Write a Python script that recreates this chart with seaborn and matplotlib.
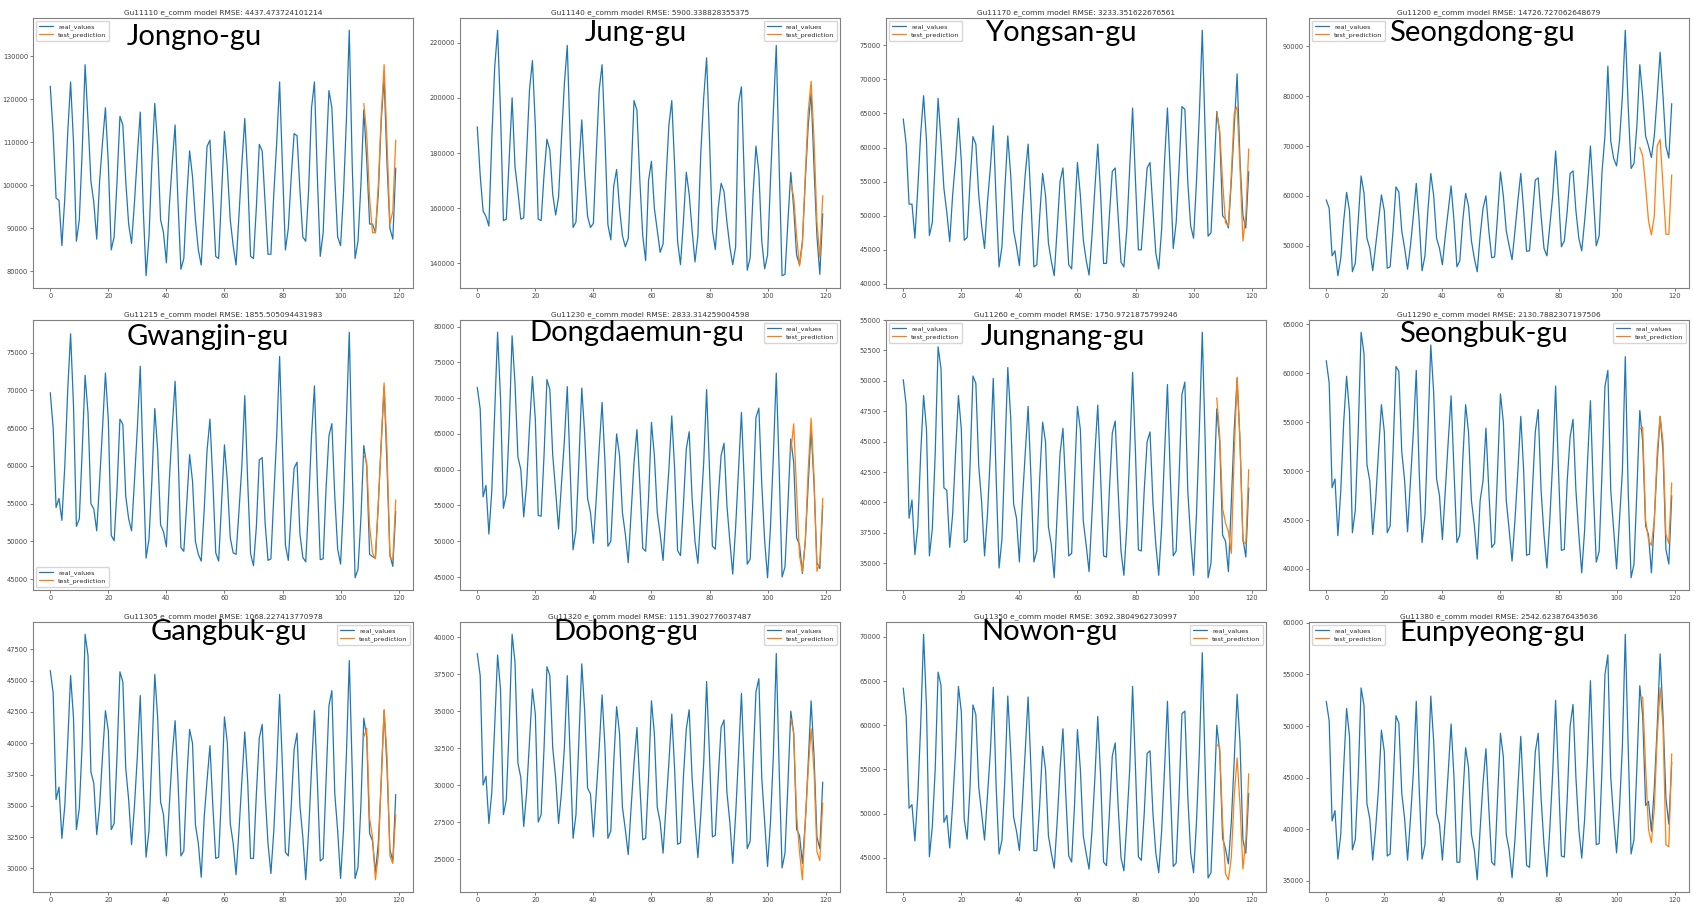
import numpy as np
import matplotlib
matplotlib.use('Agg')
import matplotlib.pyplot as plt
from matplotlib.ticker import MultipleLocator, StrMethodFormatter
import seaborn as sns

# daily e-commerce values per district, in thousands
jongno_real = [123, 112, 97, 96.5, 86, 97, 112, 124, 110, 87, 92, 108,
               128, 115, 101, 96, 87.5, 101, 110, 118, 105, 85, 88, 101,
               116, 114, 101, 91, 86.5, 96, 107, 117, 95, 79, 88, 105,
               119, 109, 92, 89, 82, 95, 105, 114, 96, 80.5, 83, 97,
               108, 102, 92, 85, 81.5, 95, 109, 110.5, 97, 83.5, 83, 98,
               112.5, 104, 92, 86, 81.5, 93, 105, 115.5, 102, 83.5, 83, 95,
               109.5, 108, 96, 84, 84, 98, 110, 124, 104, 85, 90, 102,
               112, 111.5, 99, 88, 87, 99, 118, 124, 102, 83.5, 89, 106,
               122, 118, 102, 88, 86, 98, 115, 136, 105, 83, 87, 100,
               117.5, 106, 91, 91, 89, 98, 115, 125, 105, 90, 87.5, 104]
jongno_pred = [119, 112, 97, 89, 89, 100, 116, 128, 110, 91, 94, 110.5]

jung_real = [189.5, 172, 159, 157, 153.5, 185, 211, 224.5, 195, 155.5, 156, 178,
             200, 175, 166, 156, 156.5, 180, 203, 213.5, 190, 156, 155.5, 172,
             185, 181, 165, 157.5, 164, 185, 205, 219, 185, 153, 155, 175,
             192, 172, 157, 153, 154.5, 180, 203, 212, 185, 154, 148.5, 168,
             174, 160, 150, 146, 149, 172, 199, 195.5, 170, 150, 141, 170,
             177, 160, 152, 144, 147, 170, 190, 199, 175, 148, 139.5, 155,
             173, 165, 152, 140.5, 150, 180, 200, 214.5, 185, 152, 145, 160,
             169, 166, 155, 146, 139.5, 146, 198, 204, 170, 137.5, 142, 165,
             182.5, 173, 148, 138, 143, 170, 195, 219, 175, 135.5, 136, 155,
             173, 160, 143, 139.5, 148, 170, 190, 202, 175, 150, 136, 158]
jung_pred = [169, 164, 150, 139, 147, 172, 195, 206, 185, 155, 142, 164.5]

yongsan_real = [64.2, 60.5, 51.7, 51.7, 46.7, 54, 62, 67.6, 61, 47.1, 49, 58,
                67.2, 61, 54, 50.5, 46.2, 53, 58, 64.3, 58, 46.4, 46.8, 55,
                61.6, 60.5, 53, 48.5, 45.2, 52, 57, 63.2, 52, 42.5, 45.5, 54,
                61.7, 56, 47.8, 45.5, 42.7, 50, 56, 60.5, 52, 42.5, 42.8, 50,
                56.2, 53, 46, 43.3, 41.2, 48, 55, 57, 50, 42.8, 42.2, 50,
                57.8, 53, 46.5, 43.5, 41.3, 47, 54, 60.5, 53, 43, 43, 50,
                56.5, 57, 50, 43.2, 42.5, 48, 57, 65.8, 55, 45, 45, 51,
                57, 57.8, 51, 44.5, 42.2, 48, 58, 65.8, 56, 45.2, 49, 57,
                66, 65.6, 55, 48.5, 46.7, 55, 65, 77.2, 62, 47, 47.5, 56,
                65.3, 62, 50, 49.5, 48.2, 55, 63, 70.8, 58, 50, 48.2, 56.5]
yongsan_pred = [65.2, 62.5, 55, 49, 48.5, 56, 65, 66, 57, 46.3, 50, 59.8]

seongdong_real = [59.2, 57.5, 48, 49, 44, 47.5, 55, 60.7, 57, 44.8, 46.5, 55,
                  64, 60.5, 51.5, 49.5, 45, 50, 55, 60.2, 57, 45.5, 45.8, 53,
                  61.8, 60.8, 53, 49.5, 45.3, 50, 56, 62.5, 55, 45, 48, 57,
                  64.5, 60, 51.5, 49.5, 46.2, 52, 57, 62, 55, 45.8, 47, 55,
                  60.5, 58, 51, 47.5, 44.8, 52, 57.5, 60, 53, 47.6, 47.8, 56,
                  64.8, 60, 53, 50, 47.2, 53, 59, 64.5, 57, 48.9, 49, 56,
                  63.2, 63.6, 56, 49.5, 48, 54, 60, 69, 60, 49.8, 51, 57,
                  64.5, 65, 57, 51.5, 49, 55, 62, 70, 60, 50, 52, 65,
                  72, 86, 71, 67.5, 66, 71, 80, 93.2, 78, 65.5, 66.5, 74,
                  86.3, 80, 72, 70, 67.7, 72, 80, 88.8, 80, 70, 67.6, 78.5]
seongdong_pred = [69.7, 68, 62, 55, 52.2, 56, 70, 71.3, 62, 52.3, 52.3, 64.2]

gwangjin_real = [69.7, 65, 54.5, 55.7, 52.8, 60, 70, 77.5, 68, 52, 53, 62,
                 72, 67, 55, 54.3, 51.4, 58, 65, 72.3, 66, 50.8, 50.1, 57,
                 66.2, 65.5, 56, 53, 51.4, 58, 65, 73.2, 60, 47.8, 50.3, 58,
                 67.6, 62, 52.2, 51.3, 49.3, 58, 65, 71.2, 62, 49.2, 48.7, 55,
                 61.5, 58, 50, 48.3, 47.4, 54, 62, 66.2, 58, 48.5, 47.4, 55,
                 62.8, 58, 50.5, 48.5, 48.3, 54, 60, 69.3, 58, 48.4, 46.8, 52,
                 60.8, 61.1, 52.5, 47.5, 47.7, 56, 64, 74.5, 62, 49.5, 47.5, 54,
                 59.7, 60.5, 51, 47.9, 47.3, 55, 64, 70.6, 58, 47.6, 47.7, 57,
                 64, 65.6, 56, 49, 47, 55, 66, 77.7, 60, 45.2, 46.3, 53,
                 62.7, 60, 48.3, 48, 47.8, 55, 63, 70.5, 60, 48.2, 46.7, 54]
gwangjin_pred = [61.5, 60.5, 52, 48.5, 47.7, 55, 63, 71, 62, 48, 47.5, 55.5]

dongdaemun_real = [71.5, 68.5, 56.2, 57.8, 51, 57, 68, 79.2, 70, 54.6, 56.5, 66,
                   78.7, 72, 61.8, 60, 53.4, 58, 66, 73, 67, 53.6, 53.5, 62,
                   72.6, 71.2, 62, 57, 51.7, 58, 64, 71.6, 60, 48.8, 51.5, 61,
                   71.4, 65, 56, 54, 49.7, 56, 63, 69.4, 61, 49.3, 50, 58,
                   65, 62, 54, 51, 47, 54, 61, 65.6, 58, 49, 48.6, 56,
                   66.6, 62, 54, 51, 47.3, 54, 60, 67.5, 60, 48.7, 48, 55,
                   62.9, 65.3, 56, 50, 46.9, 54, 61, 71.2, 60, 49.3, 48.9, 56,
                   62, 63.7, 55, 50, 45.4, 52, 60, 68, 58, 46.8, 47.5, 56,
                   67.3, 68.6, 58, 50, 44.9, 52, 62, 73.5, 60, 45, 46.4, 55,
                   64.3, 61, 50.5, 49.5, 45.5, 50, 58, 65.7, 58, 47, 46.2, 55]
dongdaemun_pred = [62.5, 66.4, 57, 48, 45.7, 50, 60, 67.2, 59, 45.8, 47, 56]

jungnang_real = [50.1, 48, 38.7, 40.2, 35.7, 38, 44, 48.8, 46, 35.6, 37.8, 44,
                 52.8, 51, 41.2, 41, 36.3, 39, 44, 48.8, 46, 36.7, 36.9, 43,
                 50.4, 49.8, 43, 40, 35.6, 39, 44, 50.2, 42, 34.6, 37, 44,
                 51.1, 47, 39.9, 38.7, 35.1, 40, 44, 47.9, 42, 35.1, 36, 42,
                 46.6, 45, 38, 36.5, 33.8, 39, 44, 46.1, 41, 35.6, 35.8, 42,
                 47.9, 46, 38.5, 36.5, 34.3, 39, 44, 48, 42, 35.6, 35.5, 41,
                 45.7, 46.7, 41, 36, 34.0, 38, 44, 50.7, 44, 36.1, 36, 41,
                 45, 45.8, 40, 36.5, 34.0, 38, 44, 49.7, 42, 35.6, 36, 42,
                 48.9, 49.9, 41, 37, 34.0, 39, 46, 54, 45, 33.8, 35, 41,
                 47.7, 45, 37.3, 36.8, 34.3, 40, 46, 50.2, 45, 37, 35.5, 41.2]
jungnang_pred = [48.6, 45.5, 39.5, 38.3, 37.6, 35.8, 44, 50.3, 45, 36.8, 36.6, 42.7]

seongbuk_real = [61.3, 59, 48.3, 49.2, 43.4, 48, 55, 59.7, 56, 43.7, 46, 54,
                 64.2, 62, 50.7, 49, 43.5, 47, 52, 56.8, 54, 43.7, 44.4, 52,
                 60.7, 60.2, 52, 49, 43.8, 49, 54, 60.3, 50, 42.7, 45.5, 54,
                 62.9, 58, 49.2, 47.5, 43, 48, 53, 57.7, 50, 42.7, 43.5, 51,
                 56.8, 54, 47, 44.5, 41, 47, 49, 54.4, 48, 42.2, 42.6, 50,
                 57.9, 55, 47, 44, 40.8, 45, 50, 55.6, 50, 41.4, 41.5, 48,
                 54, 56.3, 48, 43.5, 40.1, 45, 51, 58.7, 50, 41.9, 42, 49,
                 53.5, 55.3, 48, 43.5, 39.6, 44, 51, 57.2, 48, 40.7, 41.8, 50,
                 58.7, 60.3, 48, 44, 40, 45, 50, 61.7, 48, 39.1, 40.5, 48,
                 56.2, 53, 44.4, 43.5, 39.6, 45, 51, 55.6, 52, 42, 40.5, 47.5]
seongbuk_pred = [54.3, 54.5, 45, 43, 42.4, 45, 52, 55.6, 53, 43.5, 42.6, 48.8]

gangbuk_real = [45.8, 44, 35.5, 36.5, 32.4, 35, 40, 45.4, 42, 33.1, 34.8, 40,
                48.7, 47, 37.7, 36.8, 32.7, 35, 39, 42.6, 41, 33.1, 33.6, 39,
                45.7, 44.9, 38, 35.5, 31.9, 35, 39, 43.8, 37, 30.9, 33, 39,
                45.5, 42, 35.3, 34.3, 31, 35, 39, 41.8, 37, 31, 31.4, 37,
                41.1, 40, 33.5, 32, 29.3, 34, 37, 39.8, 35, 30.8, 30.9, 36,
                42.1, 40, 33.6, 32, 29.5, 33, 37, 40.9, 37, 30.8, 30.8, 36,
                40.4, 41.5, 36, 32, 29.6, 33, 38, 43.9, 38, 31.3, 31, 35,
                39.5, 40.8, 35, 32.5, 29.1, 33, 38, 42.6, 37, 30.6, 30.8, 37,
                43, 44.2, 36, 33, 29.2, 33, 39, 46.6, 38, 29.2, 30.1, 35,
                42, 40.5, 32.8, 32.2, 29.7, 32, 37, 42.6, 38, 31.5, 30.6, 35.9]
gangbuk_pred = [40.5, 41.2, 34, 32.5, 29.1, 31, 37, 42.7, 39, 31, 30.4, 34.3]

dobong_real = [38.9, 37.4, 30, 30.6, 27.4, 29.5, 34, 38.8, 36.5, 28, 29, 34,
               40.2, 38.3, 31.5, 30.5, 27.2, 29.5, 33, 36.5, 34.8, 27.5, 28, 32.5,
               38, 37.4, 32.5, 30.5, 27.4, 29.5, 32.5, 37.4, 32, 26.4, 28, 33,
               38.2, 35, 29.8, 29.4, 26.5, 29.5, 32.5, 36.1, 32.5, 26.4, 26.9, 31.5,
               35.3, 33.5, 28.5, 27, 25.3, 28.5, 31.5, 33.9, 30, 26.3, 26.4, 30.5,
               35.7, 33.5, 28.5, 27.5, 25.4, 28.5, 31.5, 34.8, 31, 26, 26.1, 30.5,
               33.8, 35.1, 30.5, 27.5, 25.1, 28, 31.5, 37, 32, 26.5, 26.6, 30.5,
               33.9, 34.4, 29.5, 27.5, 24.7, 28, 32, 36.2, 31, 25.7, 26.2, 31.5,
               36.3, 37.2, 30.5, 27.5, 24.5, 27.5, 32, 38.9, 31, 24.4, 25.4, 30,
               35, 33.5, 27, 26.6, 24.7, 27.5, 31.5, 35.7, 32, 26.5, 25.7, 30.2]
dobong_pred = [34.5, 33.5, 28, 25.5, 23.6, 27.5, 31, 33.8, 31, 25.5, 24.9, 28.8]

nowon_real = [64.2, 61, 50.6, 51, 46.9, 52, 60, 70.3, 62, 45.1, 48.5, 55,
              66, 64.5, 49, 49.8, 46.1, 51, 57, 64.4, 61.5, 49.3, 47.1, 53,
              62.3, 61.2, 53, 50, 47, 52, 57, 64.3, 53, 45.4, 47, 54,
              63.3, 57, 49.6, 48, 45.8, 51, 57, 63.2, 55, 45.8, 45.8, 51,
              57.6, 55, 47.5, 45.5, 43.8, 49, 55, 59.6, 52, 45.2, 44.5, 51,
              59.5, 55, 47.5, 45.5, 43.7, 48, 54, 61, 54, 44.5, 44.1, 50,
              56.5, 58, 51, 45, 43.5, 49, 55, 64.4, 55, 45.1, 44.7, 50,
              56.8, 57.1, 50, 45.5, 43.3, 48, 55, 62.7, 53, 44, 44.4, 52,
              61.3, 61.6, 52, 45.5, 43.3, 49, 57, 68.2, 55, 42.7, 43.3, 51,
              60, 57, 47.2, 46, 44.3, 49, 56, 63.5, 58, 47, 45.5, 52.3]
nowon_pred = [57.8, 57.5, 49, 43.2, 42.5, 45, 52, 56.3, 51, 43.7, 47, 54.5]

eunpyeong_real = [52.4, 50.5, 40.8, 41.8, 37.1, 39.5, 46, 51.7, 49, 38, 39, 45,
                  53.7, 52, 42.5, 41, 37, 40, 44, 49.6, 47.5, 37.4, 37.6, 44,
                  51, 50.3, 43.5, 41, 37, 41, 45.5, 52.4, 44, 37.1, 38.5, 45,
                  52.9, 48.5, 41.5, 40.5, 37, 41, 45.5, 50.2, 45, 36.8, 36.8, 43,
                  47.9, 46, 39.5, 38, 35.1, 40, 44.5, 47.8, 42, 36.8, 36.5, 43,
                  49.3, 47, 39.5, 38, 35.3, 39, 44, 49, 43, 36.5, 36.3, 42,
                  47.5, 49.3, 43, 38.5, 35.4, 40, 45.5, 52.5, 45, 37.4, 37.3, 43,
                  50, 52.1, 45, 40, 37.2, 41, 47, 54.4, 46, 38.5, 38.6, 46,
                  55, 56.9, 45, 41, 37.7, 42, 48, 58.9, 48, 37.6, 39, 46,
                  53.9, 51, 42.3, 42.7, 39.8, 44, 50, 57, 51, 43, 40.5, 46.5]
eunpyeong_pred = [52.8, 52.8, 46, 40, 38.7, 42, 49, 53.7, 50, 38.5, 38.3, 47.3]

gu_names = ['Jongno-gu', 'Jung-gu', 'Yongsan-gu', 'Seongdong-gu',
            'Gwangjin-gu', 'Dongdaemun-gu', 'Jungnang-gu', 'Seongbuk-gu',
            'Gangbuk-gu', 'Dobong-gu', 'Nowon-gu', 'Eunpyeong-gu']
gu_codes = ['11110', '11140', '11170', '11200', '11215', '11230',
            '11260', '11290', '11305', '11320', '11350', '11380']
rmse = ['4437.473724101214', '5900.338828355375', '3233.351622676561',
        '14726.727062648679', '1855.505094431983', '2833.314259004598',
        '1750.9721875799246', '2130.7882307197506', '1068.227413770978',
        '1151.3902776037487', '3692.3804962730997', '2542.623876435636']

real_series = [jongno_real, jung_real, yongsan_real, seongdong_real,
               gwangjin_real, dongdaemun_real, jungnang_real, seongbuk_real,
               gangbuk_real, dobong_real, nowon_real, eunpyeong_real]
pred_series = [jongno_pred, jung_pred, yongsan_pred, seongdong_pred,
               gwangjin_pred, dongdaemun_pred, jungnang_pred, seongbuk_pred,
               gangbuk_pred, dobong_pred, nowon_pred, eunpyeong_pred]

# layout of the screenshot collage (pixels)
W, H = 1694, 906
col_left = [33, 460, 886, 1309]
row_top = [18, 320, 622]
ax_w, ax_h = 380, 270
legend_loc = ['upper left', 'upper right', 'upper left', 'upper left',
              'lower left', 'upper right', 'upper left', 'upper right',
              'upper right', 'upper right', 'upper right', 'upper left']
y_step = [10000, 20000, 5000, 10000, 5000, 5000, 2500, 5000, 2500, 2500, 5000, 5000]
label_xy = [(194, 37), (636, 33), (1061, 33), (1482, 33),
            (208, 337), (637, 333), (1063, 337), (1483, 334),
            (229, 632), (626, 632), (1050, 632), (1492, 633)]

sns.set_style('white')

fig = plt.figure(figsize=(W / 100, H / 100), dpi=100)

for i in range(12):
    r, c = divmod(i, 4)
    left = col_left[c] / W
    bottom = 1 - (row_top[r] + ax_h) / H
    ax = fig.add_axes([left, bottom, ax_w / W, ax_h / H])

    real = np.array(real_series[i]) * 1000
    pred = np.array(pred_series[i]) * 1000
    days = np.arange(len(real))
    test_days = days[len(real) - len(pred):]

    sns.lineplot(x=days, y=real, ax=ax, color='#1f77b4', linewidth=0.9,
                 label='real_values')
    sns.lineplot(x=test_days, y=pred, ax=ax, color='#ff7f0e', linewidth=0.9,
                 label='test_prediction')

    ax.set_title(f'Gu{gu_codes[i]} e_comm model RMSE: {rmse[i]}',
                 fontsize=5.3, pad=2.5, color='#333333')
    ax.xaxis.set_major_locator(MultipleLocator(20))
    ax.yaxis.set_major_locator(MultipleLocator(y_step[i]))
    ax.yaxis.set_major_formatter(StrMethodFormatter('{x:.0f}'))
    ax.tick_params(labelsize=4.8, length=2, width=0.5, colors='#444444',
                   pad=1.5, left=True, bottom=True)
    ax.set_xlabel('')
    ax.set_ylabel('')
    for s in ax.spines.values():
        s.set_color('#808080')
        s.set_linewidth(0.8)

    ax.legend(loc=legend_loc[i], fontsize=4.6, frameon=True, edgecolor='#cccccc',
              fancybox=True, handlelength=2.2, borderpad=0.4, labelspacing=0.3)

    # district name pasted over each panel
    lx, ly = label_xy[i]
    fig.text(lx / W, 1 - ly / H, gu_names[i], ha='center', va='center',
             fontsize=21, family='Lato', color='black')

fig.savefig('out.png', dpi=100)
